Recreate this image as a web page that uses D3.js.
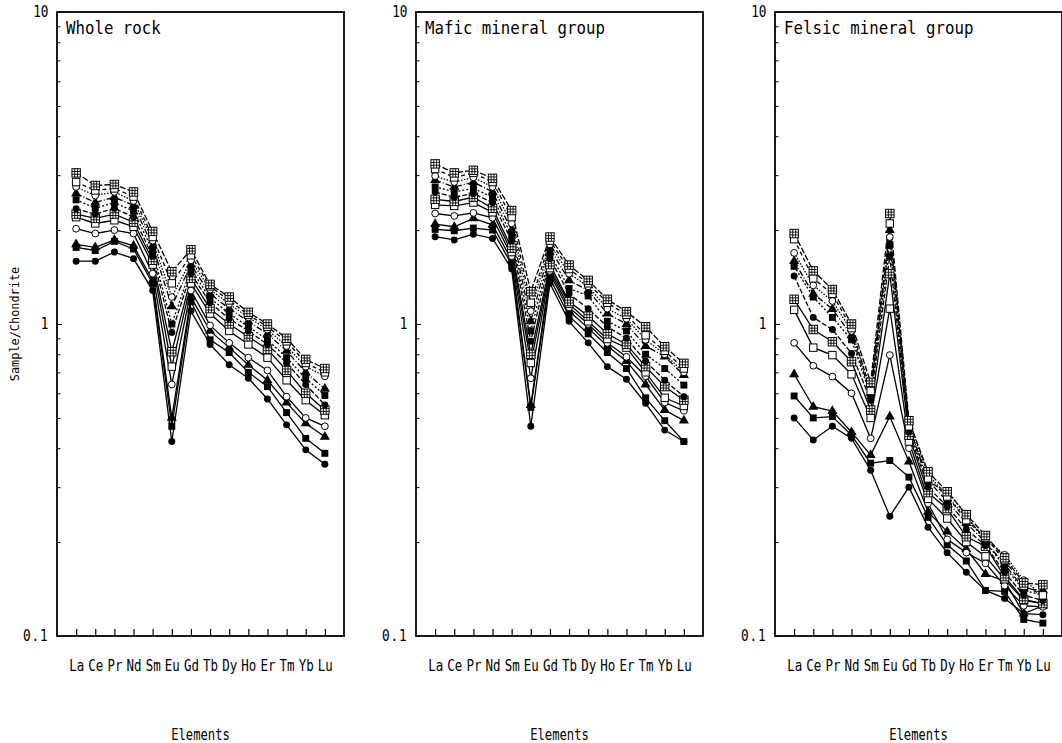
<!DOCTYPE html>
<html>
<head>
<meta charset="utf-8">
<script src="https://cdn.jsdelivr.net/npm/d3@7"></script>
<style>
  body { margin: 0; background: #fff; }
</style>
</head>
<body>
<script>
// chondrite-normalised REE values, one row per sample
const elements = ["La", "Ce", "Pr", "Nd", "Sm", "Eu", "Gd", "Tb", "Dy", "Ho", "Er", "Tm", "Yb", "Lu"];

const wholeRock = [
  [1.59, 1.59, 1.70, 1.62, 1.28, 0.42, 1.10, 0.86, 0.74, 0.67, 0.575, 0.475, 0.395, 0.355],
  [1.76, 1.72, 1.84, 1.74, 1.35, 0.47, 1.18, 0.89, 0.81, 0.70, 0.63, 0.52, 0.43, 0.385],
  [1.80, 1.76, 1.86, 1.78, 1.38, 0.50, 1.22, 0.95, 0.84, 0.74, 0.66, 0.56, 0.48, 0.435],
  [2.02, 1.95, 2.00, 1.95, 1.45, 0.64, 1.28, 0.99, 0.87, 0.78, 0.71, 0.585, 0.50, 0.47],
  [2.20, 2.10, 2.15, 2.05, 1.55, 0.73, 1.35, 1.08, 0.95, 0.86, 0.78, 0.66, 0.57, 0.51],
  [2.25, 2.18, 2.25, 2.12, 1.60, 0.815, 1.40, 1.12, 1.00, 0.91, 0.83, 0.71, 0.60, 0.53],
  [2.34, 2.25, 2.35, 2.20, 1.65, 0.94, 1.45, 1.17, 1.04, 0.95, 0.86, 0.75, 0.64, 0.55],
  [2.50, 2.35, 2.45, 2.30, 1.72, 1.00, 1.50, 1.21, 1.08, 0.98, 0.89, 0.78, 0.67, 0.59],
  [2.62, 2.45, 2.55, 2.40, 1.78, 1.14, 1.55, 1.25, 1.12, 1.02, 0.93, 0.82, 0.70, 0.62],
  [2.75, 2.58, 2.65, 2.48, 1.85, 1.22, 1.60, 1.29, 1.16, 1.05, 0.96, 0.85, 0.73, 0.68],
  [2.85, 2.68, 2.72, 2.56, 1.90, 1.35, 1.66, 1.32, 1.19, 1.07, 0.98, 0.88, 0.75, 0.70],
  [3.05, 2.78, 2.80, 2.65, 1.98, 1.47, 1.73, 1.34, 1.22, 1.09, 1.00, 0.90, 0.77, 0.72]
];

const maficGroup = [
  [1.905, 1.86, 1.94, 1.88, 1.50, 0.47, 1.35, 1.02, 0.87, 0.73, 0.665, 0.557, 0.457, 0.42],
  [2.01, 1.99, 2.03, 2.00, 1.55, 0.54, 1.40, 1.06, 0.93, 0.81, 0.72, 0.58, 0.49, 0.42],
  [2.09, 2.05, 2.18, 2.08, 1.60, 0.55, 1.45, 1.10, 0.97, 0.85, 0.76, 0.64, 0.53, 0.49],
  [2.26, 2.22, 2.27, 2.19, 1.65, 0.67, 1.48, 1.13, 1.00, 0.87, 0.785, 0.68, 0.56, 0.527],
  [2.41, 2.39, 2.45, 2.28, 1.70, 0.75, 1.51, 1.16, 1.02, 0.895, 0.84, 0.70, 0.58, 0.546],
  [2.51, 2.47, 2.55, 2.35, 1.75, 0.80, 1.55, 1.18, 1.06, 0.93, 0.86, 0.73, 0.63, 0.57],
  [2.65, 2.55, 2.62, 2.45, 1.85, 0.88, 1.62, 1.25, 1.12, 0.98, 0.90, 0.76, 0.66, 0.585],
  [2.75, 2.65, 2.72, 2.55, 1.92, 0.95, 1.68, 1.30, 1.23, 1.02, 0.95, 0.80, 0.72, 0.637],
  [2.89, 2.75, 2.85, 2.65, 2.00, 1.02, 1.75, 1.38, 1.28, 1.08, 1.00, 0.85, 0.786, 0.686],
  [2.98, 2.85, 2.95, 2.75, 2.10, 1.10, 1.80, 1.45, 1.32, 1.12, 1.04, 0.89, 0.80, 0.70],
  [3.14, 2.95, 3.05, 2.85, 2.20, 1.17, 1.85, 1.50, 1.35, 1.17, 1.07, 0.92, 0.82, 0.72],
  [3.26, 3.05, 3.11, 2.93, 2.31, 1.27, 1.90, 1.545, 1.38, 1.20, 1.095, 0.98, 0.846, 0.748]
];

const felsicGroup = [
  [0.50, 0.425, 0.47, 0.43, 0.34, 0.242, 0.30, 0.223, 0.185, 0.16, 0.14, 0.132, 0.118, 0.117],
  [0.588, 0.50, 0.505, 0.44, 0.358, 0.365, 0.323, 0.24, 0.196, 0.174, 0.14, 0.139, 0.113, 0.11],
  [0.69, 0.543, 0.526, 0.45, 0.38, 0.505, 0.362, 0.25, 0.216, 0.19, 0.158, 0.15, 0.118, 0.125],
  [0.87, 0.735, 0.678, 0.60, 0.43, 0.795, 0.40, 0.266, 0.204, 0.185, 0.171, 0.145, 0.125, 0.124],
  [1.11, 0.84, 0.795, 0.69, 0.50, 1.12, 0.42, 0.275, 0.238, 0.20, 0.18, 0.152, 0.13, 0.127],
  [1.20, 0.96, 0.877, 0.757, 0.53, 1.45, 0.44, 0.288, 0.256, 0.208, 0.194, 0.155, 0.131, 0.127],
  [1.425, 1.05, 0.96, 0.805, 0.57, 1.65, 0.45, 0.30, 0.26, 0.22, 0.195, 0.16, 0.135, 0.13],
  [1.53, 1.22, 1.05, 0.89, 0.59, 1.80, 0.46, 0.31, 0.292, 0.244, 0.20, 0.167, 0.14, 0.135],
  [1.59, 1.25, 1.117, 0.92, 0.60, 2.00, 0.47, 0.315, 0.27, 0.23, 0.20, 0.17, 0.142, 0.14],
  [1.69, 1.33, 1.185, 0.95, 0.62, 1.90, 0.48, 0.33, 0.28, 0.24, 0.205, 0.182, 0.151, 0.135],
  [1.87, 1.40, 1.25, 0.97, 0.61, 2.10, 0.47, 0.32, 0.28, 0.235, 0.207, 0.175, 0.145, 0.135],
  [1.95, 1.48, 1.29, 1.00, 0.65, 2.26, 0.49, 0.336, 0.29, 0.245, 0.21, 0.178, 0.148, 0.146]
];

const panelTitles = ["Whole rock", "Mafic mineral group", "Felsic mineral group"];
const yTickLabels = [0.1, 1, 10];
const xTitle = "Elements";
const yTitle = "Sample/Chondrite";

// layout
const width = 1062, height = 743;
const panelLeft = [57, 416, 775];
const panelWidth = 287;
const plotTop = 12, plotBottom = 636;

const markerTypes = ["dot", "square", "triangle", "circle", "box", "grid",
                     "dot", "square", "triangle", "circle", "box", "grid"];
const dashes = [null, null, null, null, null, null,
                "5,2", "2,2", "6,2,1,2", "1.5,1.5", "4,3", "6,2"];

const monoFont = "'DejaVu Sans Mono', 'Liberation Mono', monospace";

const svg = d3.select("body").append("svg")
    .attr("width", width)
    .attr("height", height)
    .style("display", "block");

// draws one marker of the given kind centred on (cx, cy)
function drawMarker(g, kind, cx, cy) {
    const m = g.append("g").attr("transform", `translate(${cx},${cy})`);
    if (kind === "dot") {
        m.append("path").attr("d", d3.symbol(d3.symbolCircle, 38)()).attr("fill", "#000");
    } else if (kind === "square") {
        m.append("path").attr("d", d3.symbol(d3.symbolSquare, 48)()).attr("fill", "#000");
    } else if (kind === "triangle") {
        m.append("path").attr("d", d3.symbol(d3.symbolTriangle, 44)()).attr("fill", "#000");
    } else if (kind === "circle") {
        m.append("circle").attr("r", 3.4)
            .attr("fill", "#fff").attr("stroke", "#000").attr("stroke-width", 1);
    } else if (kind === "box") {
        m.append("rect").attr("x", -3.7).attr("y", -3.7).attr("width", 7.4).attr("height", 7.4)
            .attr("fill", "#fff").attr("stroke", "#000").attr("stroke-width", 1);
    } else {
        m.append("rect").attr("x", -4.2).attr("y", -4.2).attr("width", 8.4).attr("height", 8.4)
            .attr("fill", "#fff").attr("stroke", "#000").attr("stroke-width", 1);
        const s = 8.4 / 3;
        m.append("path")
            .attr("d", `M${-4.2 + s},-4.2V4.2M${-4.2 + 2 * s},-4.2V4.2M-4.2,${-4.2 + s}H4.2M-4.2,${-4.2 + 2 * s}H4.2`)
            .attr("stroke", "#000").attr("stroke-width", 0.9);
    }
}

function drawPanel(idx, series) {
    const left = panelLeft[idx];
    const right = left + panelWidth;

    const x = d3.scalePoint()
        .domain(elements)
        .range([left, right])
        .padding(1);

    const y = d3.scaleLog()
        .domain([0.1, 10])
        .range([plotBottom, plotTop]);

    const g = svg.append("g");

    // minor ticks on the left, pointing inward
    const minor = y.ticks().filter(v => !yTickLabels.some(t => Math.abs(t - v) < 1e-9));
    g.append("g")
        .attr("transform", `translate(${left},0)`)
        .call(d3.axisLeft(y).tickValues(minor).tickSizeInner(-3.5).tickSizeOuter(0).tickFormat(""))
        .call(a => a.select(".domain").remove());

    // labelled ticks (text squeezed horizontally to mimic the narrow original face)
    g.append("g")
        .attr("transform", `translate(${left},0)`)
        .call(d3.axisLeft(y).tickValues(yTickLabels).tickSizeInner(-5).tickSizeOuter(0)
            .tickPadding(10).tickFormat(d => d >= 1 ? String(d) : "0.1"))
        .call(a => a.select(".domain").remove())
        .call(a => a.selectAll("text")
            .attr("font-family", monoFont)
            .attr("font-size", 15)
            .attr("letter-spacing", d => d < 1 ? 1 : 0)
            .attr("transform", "scale(0.85,1)")
            .attr("fill", "#000"));

    // element ticks along the bottom
    g.append("g")
        .attr("transform", `translate(0,${plotBottom})`)
        .call(d3.axisBottom(x).tickSizeInner(-7).tickSizeOuter(0).tickPadding(24))
        .call(a => a.select(".domain").remove())
        .call(a => a.selectAll("line").attr("stroke-width", 1.2))
        .call(a => a.selectAll("text")
            .attr("font-family", monoFont)
            .attr("font-size", 16)
            .attr("transform", "scale(0.78,1)")
            .attr("fill", "#000"));

    // frame
    g.append("rect")
        .attr("x", left)
        .attr("y", plotTop)
        .attr("width", panelWidth)
        .attr("height", plotBottom - plotTop)
        .attr("fill", "none")
        .attr("stroke", "#000")
        .attr("stroke-width", 1.8);

    // title in the upper-left corner
    g.append("text")
        .attr("transform", `translate(${left + 9},${plotTop + 22}) scale(0.9,1)`)
        .attr("font-family", monoFont)
        .attr("font-size", 17.5)
        .attr("fill", "#000")
        .text(panelTitles[idx]);

    // x title
    g.append("text")
        .attr("transform", `translate(${(left + right) / 2},${plotBottom + 104}) scale(0.76,1)`)
        .attr("text-anchor", "middle")
        .attr("font-family", monoFont)
        .attr("font-size", 16)
        .attr("fill", "#000")
        .text(xTitle);

    const line = d3.line()
        .x((d, j) => x(elements[j]))
        .y(d => y(d));

    const lines = g.append("g");
    series.forEach((vals, s) => {
        lines.append("path")
            .attr("d", line(vals))
            .attr("fill", "none")
            .attr("stroke", "#000")
            .attr("stroke-width", 1.3)
            .attr("stroke-dasharray", dashes[s]);
    });

    const marks = g.append("g");
    series.forEach((vals, s) => {
        vals.forEach((v, j) => drawMarker(marks, markerTypes[s], x(elements[j]), y(v)));
    });
}

drawPanel(0, wholeRock);
drawPanel(1, maficGroup);
drawPanel(2, felsicGroup);

// shared y title on the left
svg.append("text")
    .attr("transform", `translate(19,${(plotTop + plotBottom) / 2}) rotate(-90) scale(0.95,1)`)
    .attr("text-anchor", "middle")
    .attr("font-family", monoFont)
    .attr("font-size", 12.5)
    .attr("fill", "#000")
    .text(yTitle);
</script>
</body>
</html>
